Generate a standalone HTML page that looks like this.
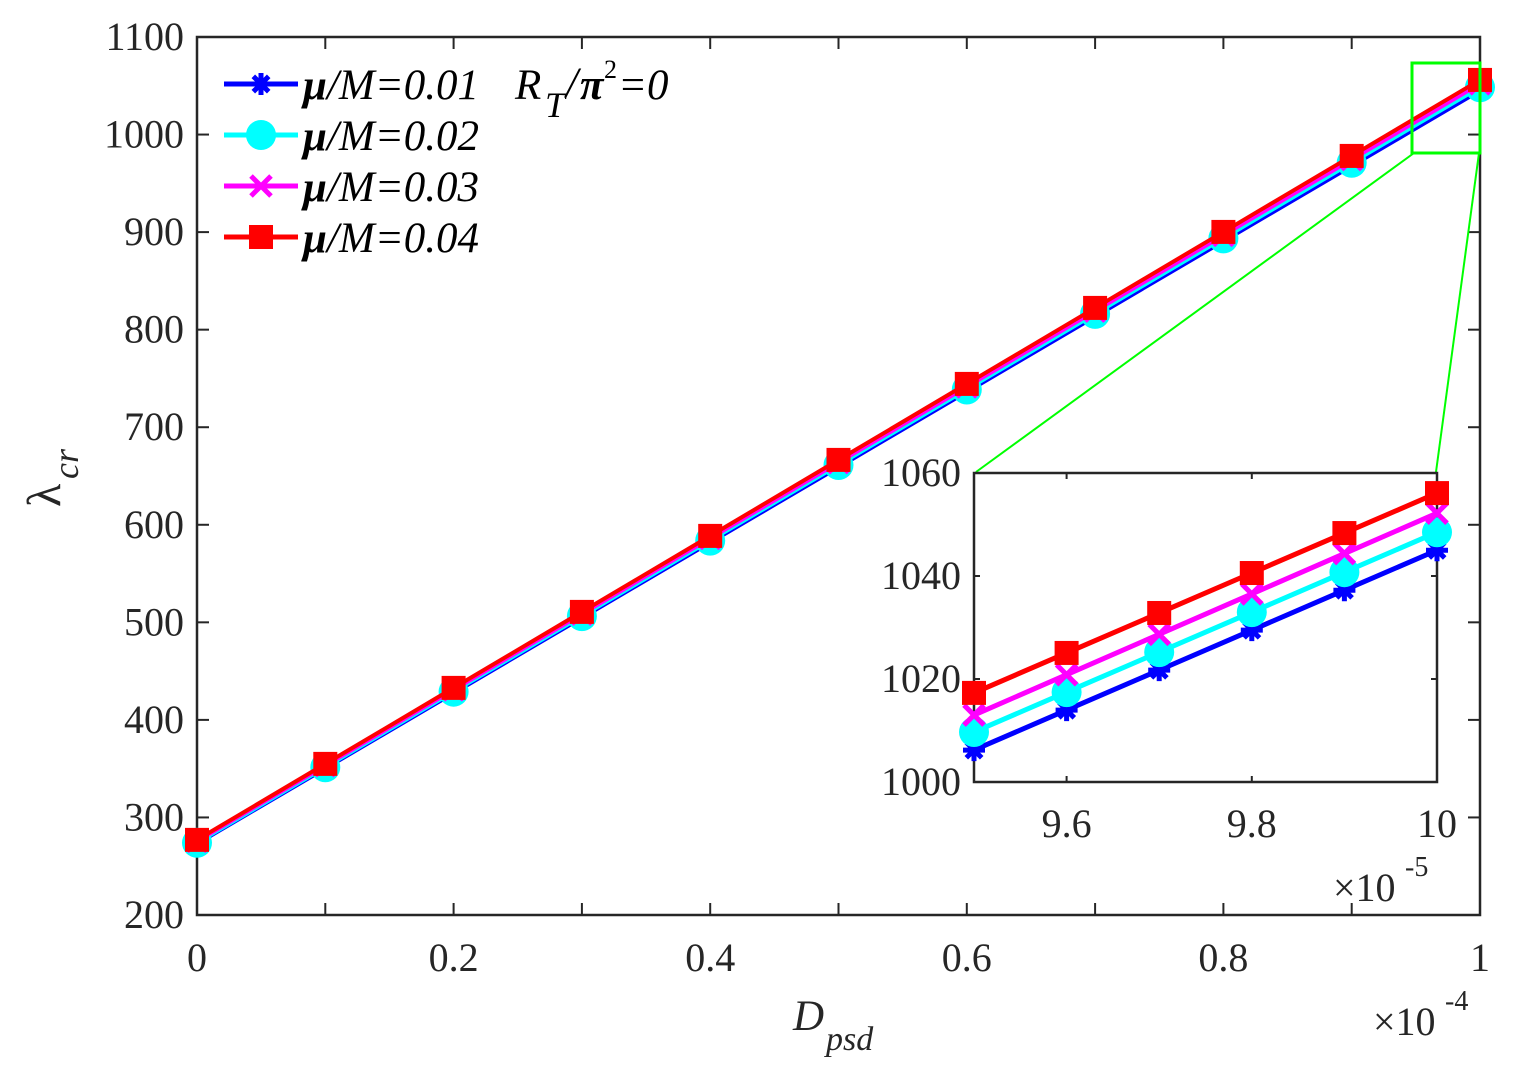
<!DOCTYPE html>
<html><head><meta charset="utf-8"><style>
html,body{margin:0;padding:0;background:#fff;}
svg, svg text{font-family:"Liberation Serif","Times New Roman",Times,serif;}
svg{display:block;}
</style></head><body>
<svg id="s" width="1514" height="1076" xmlns="http://www.w3.org/2000/svg"></svg>
<script>
const s=document.getElementById('s');let h='';
const L=197,R=1480,T=37,B=915;
const X=v=>L+(R-L)*v, Y=v=>B-(B-T)*(v-200)/900;
h+=`<rect x="${L}" y="${T}" width="${R-L}" height="${B-T}" fill="#fff" stroke="#262626" stroke-width="2.5"/>`;
for(let i=0;i<=10;i++){const x=X(i/10);h+=`<line x1="${x}" y1="${B}" x2="${x}" y2="${B-12}" stroke="#262626" stroke-width="2"/><line x1="${x}" y1="${T}" x2="${x}" y2="${T+12}" stroke="#262626" stroke-width="2"/>`;}
const xl=['0','0.2','0.4','0.6','0.8','1'];
xl.forEach((t,i)=>{h+=`<text x="${X(i*0.2)}" y="971" font-size="40" text-anchor="middle" fill="#262626">${t}</text>`;});
for(let v=200;v<=1100;v+=100){const y=Y(v);h+=`<line x1="${L}" y1="${y}" x2="${L+12}" y2="${y}" stroke="#262626" stroke-width="2"/><line x1="${R}" y1="${y}" x2="${R-12}" y2="${y}" stroke="#262626" stroke-width="2"/><text x="184" y="${y+13}" font-size="40" text-anchor="end" fill="#262626">${v}</text>`;}
const series=[['#0000ff','star',273,1045],['#00ffff','circ',274,1048.5],['#ff00ff','x',275.5,1052],['#ff0000','sq',277,1056]];
function mk(t,c,x,y,k){k=k||1;
 if(t=='sq')return `<rect x="${x-12*k}" y="${y-12*k}" width="${24*k}" height="${24*k}" fill="${c}"/>`;
 if(t=='circ')return `<circle cx="${x}" cy="${y}" r="${15*k}" fill="${c}"/>`;
 if(t=='x'){const d=10*k;return `<path d="M${x-d} ${y-d}L${x+d} ${y+d}M${x-d} ${y+d}L${x+d} ${y-d}" stroke="${c}" stroke-width="5"/>`;}
 const d=11*k;return `<path d="M${x-d} ${y}L${x+d} ${y}M${x} ${y-d}L${x} ${y+d}M${x-d*.7} ${y-d*.7}L${x+d*.7} ${y+d*.7}M${x-d*.7} ${y+d*.7}L${x+d*.7} ${y-d*.7}" stroke="${c}" stroke-width="5"/>`;}
series.forEach(([c,t,a,b])=>{let p=[];for(let i=0;i<=10;i++)p.push([X(i/10),Y(a+(b-a)*i/10)]);
 h+=`<polyline points="${p.map(q=>q.join(',')).join(' ')}" fill="none" stroke="${c}" stroke-width="4"/>`;
 p.forEach(q=>h+=mk(t,c,q[0],q[1]));});
series.forEach(([c,t],i)=>{const y=84+i*51;h+=`<line x1="224" y1="${y}" x2="298" y2="${y}" stroke="${c}" stroke-width="5"/>`+mk(t,c,261,y);
 h+=`<text x="303" y="${y+15}" font-size="43" font-style="italic" fill="#000"><tspan font-weight="bold">μ</tspan>/M=0.0${i+1}</text>`;});
h+=`<text x="515" y="99" font-size="43" font-style="italic">R</text><text x="545" y="117" font-size="36" font-style="italic">T</text><text x="566" y="97" font-size="43" font-style="italic">/</text><text x="580" y="99" font-size="43" font-style="italic" font-weight="bold">π</text><text x="604" y="78" font-size="26">2</text><text x="618" y="99" font-size="43" font-style="italic">=0</text>`;
h+=`<rect x="1412" y="63" width="68" height="90" fill="none" stroke="#00ff00" stroke-width="3"/>`;
h+=`<line x1="976" y1="472" x2="1414" y2="153" stroke="#00ff00" stroke-width="2"/><line x1="1436" y1="472" x2="1479" y2="153" stroke="#00ff00" stroke-width="2"/>`;
const il=974,ir=1437,it=473,ib=782;
const IX=v=>il+(ir-il)*(v-9.5)/0.5, IY=v=>ib-(ib-it)*(v-1000)/60;
h+=`<rect x="${il}" y="${it}" width="${ir-il}" height="${ib-it}" fill="#fff" stroke="#262626" stroke-width="2.5"/>`;
[9.6,9.8,10].forEach(v=>{const x=IX(v);h+=`<line x1="${x}" y1="${ib}" x2="${x}" y2="${ib-6}" stroke="#262626" stroke-width="2"/><line x1="${x}" y1="${it}" x2="${x}" y2="${it+6}" stroke="#262626" stroke-width="2"/><text x="${x}" y="837" font-size="40" text-anchor="middle" fill="#262626">${v==10?'10':v}</text>`;});
[1000,1020,1040,1060].forEach(v=>{const y=IY(v);h+=`<line x1="${il}" y1="${y}" x2="${il+6}" y2="${y}" stroke="#262626" stroke-width="2"/><line x1="${ir}" y1="${y}" x2="${ir-6}" y2="${y}" stroke="#262626" stroke-width="2"/><text x="961" y="${y+13}" font-size="40" text-anchor="end" fill="#262626">${v}</text>`;});
const ins=[[1006.2,1045],[1009.7,1048.5],[1013,1052.2],[1017.3,1056.1]];
series.forEach(([c,t],k)=>{const [a,b]=ins[k];let p=[];for(let i=0;i<=5;i++)p.push([IX(9.5+i*0.1),IY(a+(b-a)*i/5)]);
 h+=`<polyline points="${p.map(q=>q.join(',')).join(' ')}" fill="none" stroke="${c}" stroke-width="5"/>`;
 p.forEach(q=>h+=mk(t,c,q[0],q[1]));});
h+=`<text x="1333" y="901" font-size="40" fill="#262626">×10</text><text x="1405" y="876" font-size="28" fill="#262626">-5</text>`;
h+=`<text x="1373" y="1035" font-size="40" fill="#262626">×10</text><text x="1445" y="1010" font-size="28" fill="#262626">-4</text>`;
h+=`<text x="793" y="1030" font-size="43" font-style="italic" fill="#262626">D</text><text x="826" y="1050" font-size="34" font-style="italic" fill="#262626">psd</text>`;
h+=`<g transform="translate(60,507) rotate(-90)"><text x="0" y="0" font-size="48" fill="#262626">λ</text><text x="28" y="18" font-size="36" font-style="italic" fill="#262626">cr</text></g>`;
s.innerHTML=h;
</script>
</body></html>
